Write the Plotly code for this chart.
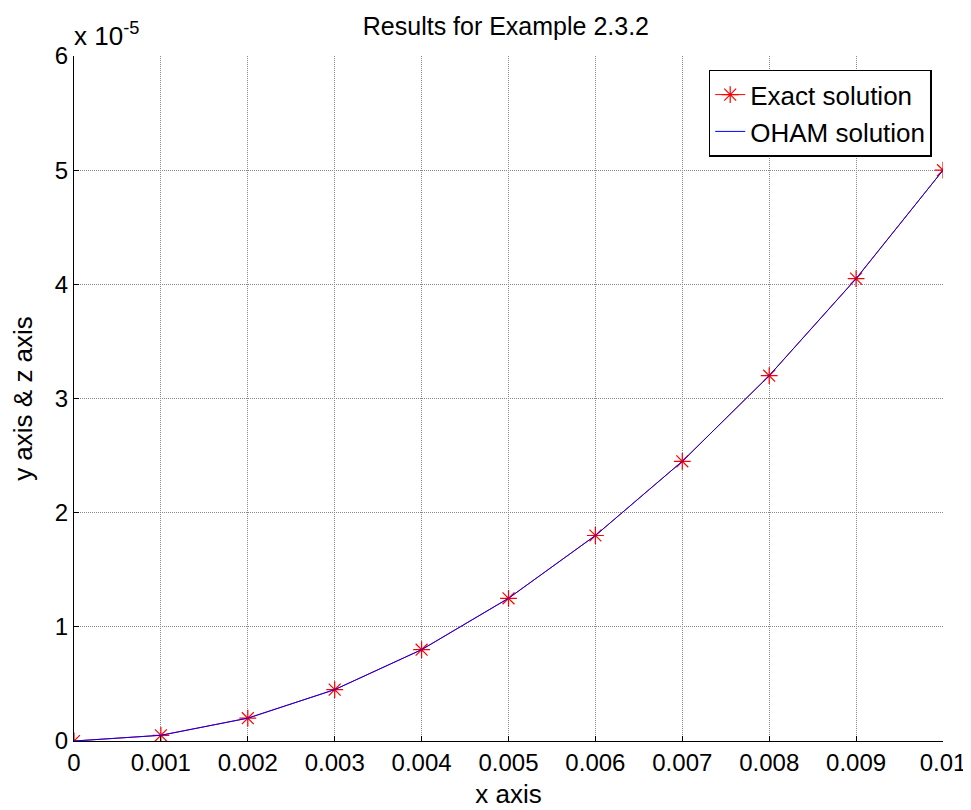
import plotly.graph_objects as go

x_vals = [0, 0.001, 0.002, 0.003, 0.004, 0.005, 0.006, 0.007, 0.008, 0.009, 0.01]
exact_vals = [0, 0.05e-5, 0.2e-5, 0.45e-5, 0.8e-5, 1.25e-5, 1.8e-5, 2.45e-5, 3.2e-5, 4.05e-5, 5.0e-5]
oham_vals = [0, 0.05e-5, 0.2e-5, 0.45e-5, 0.8e-5, 1.25e-5, 1.8e-5, 2.45e-5, 3.2e-5, 4.05e-5, 5.0e-5]
x_ticks = [0, 0.001, 0.002, 0.003, 0.004, 0.005, 0.006, 0.007, 0.008, 0.009, 0.01]
x_ticklabels = ["0", "0.001", "0.002", "0.003", "0.004", "0.005", "0.006", "0.007", "0.008", "0.009", "0.01"]
y_ticks = [0, 1e-5, 2e-5, 3e-5, 4e-5, 5e-5, 6e-5]
y_ticklabels = ["0", "1", "2", "3", "4", "5", "6"]

FONT = "Liberation Sans, Arial, sans-serif"

fig = go.Figure()
fig.add_trace(go.Scatter(
    x=x_vals, y=exact_vals, mode="lines+markers", name="Exact solution",
    line=dict(color="#ff0000", width=1),
    marker=dict(symbol="asterisk-open", size=14, color="#ff0000", line=dict(color="#ff0000", width=1.2)),
))
fig.add_trace(go.Scatter(
    x=x_vals, y=oham_vals, mode="lines", name="OHAM solution",
    line=dict(color="#0000ff", width=1),
))

axis_common = dict(
    showgrid=True, gridcolor="#888888", griddash="1px,1px", gridwidth=1,
    zeroline=False, showline=True, linecolor="black", linewidth=1,
    ticks="inside", ticklen=5, tickcolor="black",
    tickfont=dict(family=FONT, size=24, color="black"),
)

fig.update_xaxes(
    range=[0, 0.01], tickvals=x_ticks, ticktext=x_ticklabels,
    title=dict(text="x axis", font=dict(family=FONT, size=26, color="black"), standoff=10),
    **axis_common,
)
fig.update_yaxes(
    range=[0, 6e-5], tickvals=y_ticks, ticktext=y_ticklabels,
    title=dict(text="y axis &amp; z axis", font=dict(family=FONT, size=26, color="black"), standoff=17),
    **axis_common,
)

fig.update_layout(
    width=971, height=810,
    margin=dict(l=64, r=36, t=48, b=77),
    paper_bgcolor="white", plot_bgcolor="white",
    title=dict(text="Results for Example 2.3.2", x=0.497, xref="paper", xanchor="center",
               y=0.978, yref="container", yanchor="middle",
               font=dict(family=FONT, size=25, color="black")),
    legend=dict(x=0.987, y=0.98, xanchor="right", yanchor="top",
                bgcolor="white", bordercolor="black", borderwidth=1.5,
                font=dict(family=FONT, size=26, color="black"),
                itemwidth=30, tracegroupgap=2),
    showlegend=True,
    annotations=[dict(text="x 10<sup>-5</sup>", xref="paper", yref="paper", x=0, y=1.0,
                      xanchor="left", yanchor="bottom", showarrow=False, yshift=3, xshift=-2,
                      font=dict(family=FONT, size=26, color="black"))],
)

fig.write_html("out.html")
